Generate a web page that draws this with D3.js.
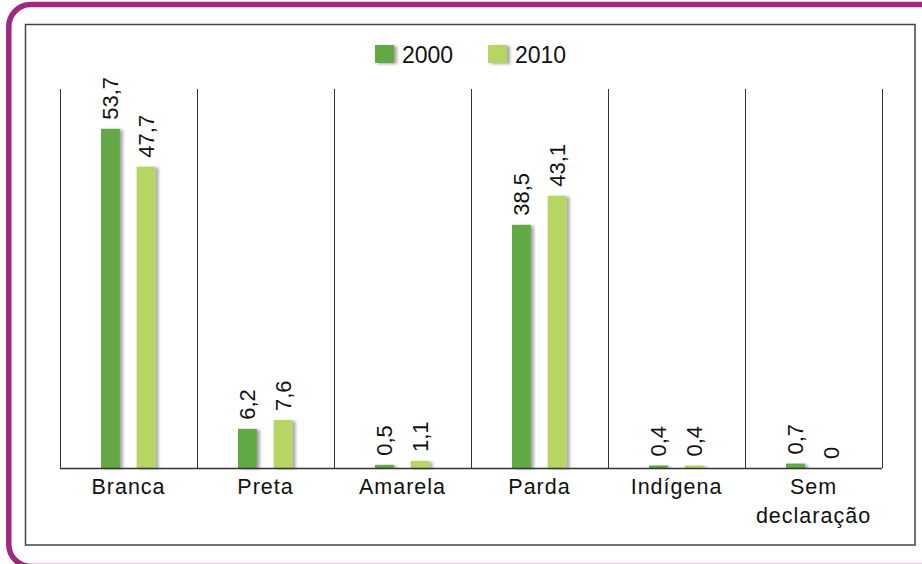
<!DOCTYPE html>
<html>
<head>
<meta charset="utf-8">
<script src="https://cdn.jsdelivr.net/npm/d3@7"></script>
<style>
  html, body { margin: 0; padding: 0; background: #fff; }
  svg { display: block; font-family: "Liberation Sans", Arial, sans-serif; }
</style>
</head>
<body>
<svg id="grafico" width="922" height="564"></svg>
<script>
// dados do grafico
var categorias = ["Branca", "Preta", "Amarela", "Parda", "Indígena", "Sem\ndeclaração"];
var series = ["2000", "2010"];
var valores2000 = [53.7, 6.2, 0.5, 38.5, 0.4, 0.7];
var valores2010 = [47.7, 7.6, 1.1, 43.1, 0.4, 0];
var cores = ["#62a845", "#b5d664"];

var valores = [valores2000, valores2010];

function formatar(v){
	if(v === 0) return "0";
	return v.toFixed(1).replace(".", ",");
}

var svg = d3.select("#grafico");

// filtro de sombra das barras
var defs = svg.append("defs");
defs.append("filter")
	.attr("id", "sombra")
	.attr("x", "-30%").attr("y", "-10%")
	.attr("width", "180%").attr("height", "130%")
	.append("feDropShadow")
	.attr("dx", 3).attr("dy", 1)
	.attr("stdDeviation", 1.4)
	.attr("flood-color", "#000")
	.attr("flood-opacity", 0.35);

// moldura roxa
svg.append("rect")
	.attr("x", 8.8).attr("y", 4.5)
	.attr("width", 960).attr("height", 562)
	.attr("rx", 22).attr("ry", 22)
	.attr("fill", "none")
	.attr("stroke", "#a0287f")
	.attr("stroke-width", 5.5);

// moldura cinza
svg.append("rect")
	.attr("x", 25.5).attr("y", 24.5)
	.attr("width", 889.5).attr("height", 520.5)
	.attr("fill", "none")
	.attr("stroke", "#444")
	.attr("stroke-width", 1.5);

var MARGENS = { left: 59.5, right: 881.5, top: 89, bottom: 468 };

var xScale = d3.scaleBand()
	.domain(categorias)
	.range([MARGENS.left, MARGENS.right])
	.paddingInner(0);

var xSerie = d3.scaleBand()
	.domain(series)
	.range([41.5, 96])
	.paddingInner(0.47);

var yScale = d3.scaleLinear()
	.domain([0, 60])
	.range([MARGENS.bottom, MARGENS.top]);

// linhas verticais entre as categorias
var limites = categorias.map(function(c){ return xScale(c); });
limites.push(MARGENS.right);

svg.append("g")
	.selectAll("line")
	.data(limites)
	.enter()
	.append("line")
	.attr("x1", function(d){ return Math.round(d) + 0.5; })
	.attr("x2", function(d){ return Math.round(d) + 0.5; })
	.attr("y1", yScale(60))
	.attr("y2", yScale(0))
	.attr("stroke", "#333")
	.attr("stroke-width", 1);

// barras
series.forEach(function(serie, s){
	var dados = categorias.map(function(c, i){
		return { cat: c, valor: valores[s][i] };
	});

	var g = svg.append("g");

	g.selectAll("rect")
		.data(dados.filter(function(d){ return d.valor > 0; }))
		.enter()
		.append("rect")
		.attr("x", function(d){ return xScale(d.cat) + xSerie(serie); })
		.attr("y", function(d){ return yScale(d.valor); })
		.attr("width", xSerie.bandwidth())
		.attr("height", function(d){ return yScale(0) - yScale(d.valor); })
		.attr("fill", cores[s])
		.attr("filter", "url(#sombra)");

	g.selectAll("text")
		.data(dados)
		.enter()
		.append("text")
		.attr("transform", function(d){
			var cx = xScale(d.cat) + xSerie(serie) + xSerie.bandwidth() / 2;
			var cy = yScale(d.valor) - 9;
			return "translate(" + cx + "," + cy + ") rotate(-90)";
		})
		.attr("dy", "0.36em")
		.attr("text-anchor", "start")
		.attr("font-size", 22)
		.attr("fill", "#111")
		.text(function(d){ return formatar(d.valor); });
});

// eixo horizontal
var xAxis = d3.axisBottom(xScale).tickSize(0).tickPadding(0);
var eixo = svg.append("g")
	.attr("transform", "translate(0," + yScale(0) + ")")
	.call(xAxis);

eixo.select(".domain")
	.attr("stroke", "#333")
	.attr("stroke-width", 1.3);

eixo.selectAll(".tick text").remove();
eixo.selectAll(".tick")
	.append("text")
	.attr("fill", "#111")
	.attr("font-size", 21.5)
	.attr("letter-spacing", "1px")
	.attr("text-anchor", "middle")
	.each(function(d){
		var linhas = d.split("\n");
		var t = d3.select(this);
		linhas.forEach(function(l, i){
			t.append("tspan")
				.attr("x", 0.5)
				.attr("y", 26 + i * 29)
				.text(l);
		});
	});

// legenda
var legenda = svg.append("g").attr("transform", "translate(375,45)");
var posLegenda = [0, 113];

series.forEach(function(serie, s){
	var item = legenda.append("g")
		.attr("transform", "translate(" + posLegenda[s] + ",0)");
	item.append("rect")
		.attr("width", 19).attr("height", 18)
		.attr("fill", cores[s])
		.attr("filter", "url(#sombra)");
	item.append("text")
		.attr("x", 27).attr("y", 18)
		.attr("font-size", 23)
		.attr("fill", "#111")
		.text(serie);
});
</script>
</body>
</html>
